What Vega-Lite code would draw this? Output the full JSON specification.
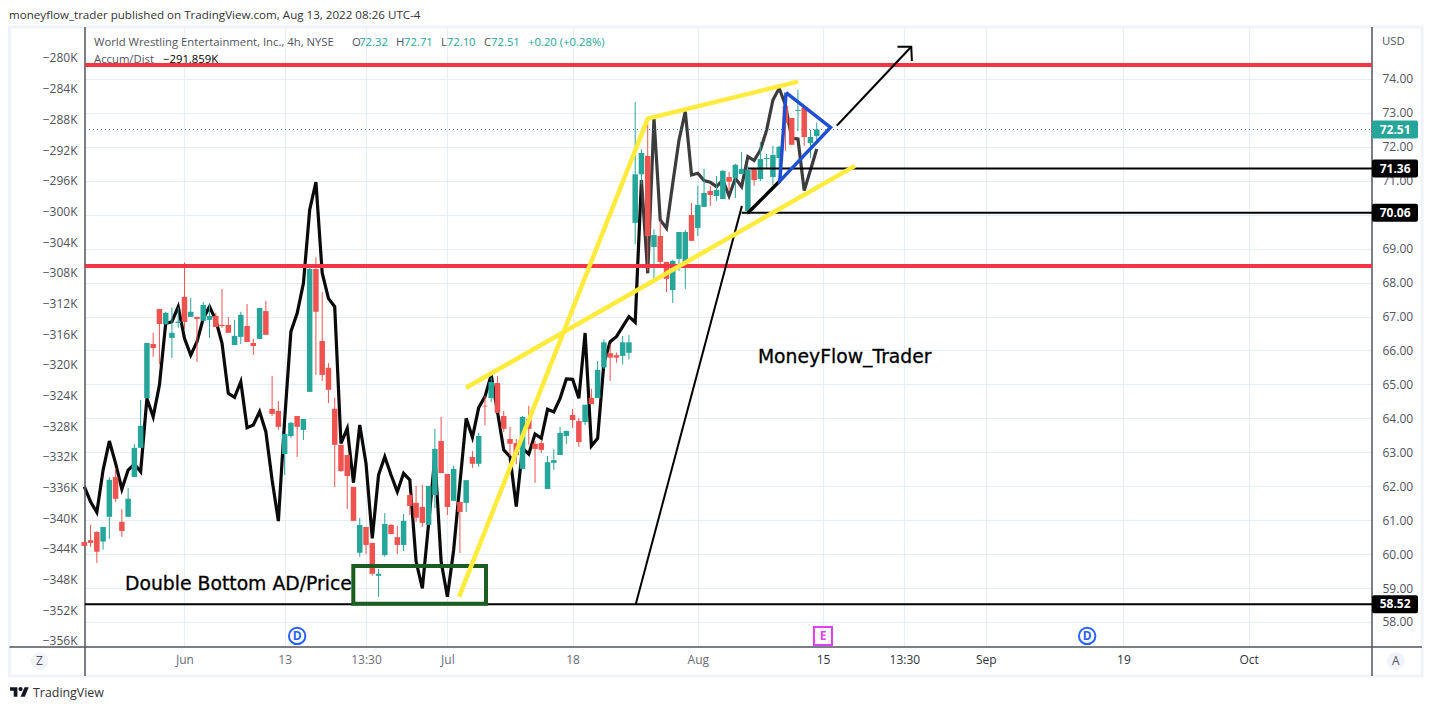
{
"$schema":"https://vega.github.io/schema/vega-lite/v6.json",
"description":"WWE 4h candles with Accumulation/Distribution and trend drawings",
"autosize":"none",
"width":1287,
"height":621,
"padding":{"left":85,"top":26,"right":60,"bottom":63},
"background":"#ffffff",
"config":{"view":{"stroke":null},"text":{"font":"Open Sans"},"axis":{"labelFont":"Open Sans","labelFontSize":12,"labelColor":"#50535e","title":null,"ticks":false,"domain":false}},
"datasets":{
"candles":[
{"i":0,"o":60.36,"h":60.36,"l":60.24,"c":60.24},{"i":1,"o":60.41,"h":60.86,"l":60.21,"c":60.33},{"i":2,"o":60.65,"h":60.68,"l":59.74,"c":60.07},{"i":3,"o":60.37,"h":60.8,"l":60.13,"c":60.8},{"i":4,"o":61.1,"h":62.27,"l":60.45,"c":62.19},{"i":5,"o":62.27,"h":62.53,"l":61.54,"c":61.63},{"i":6,"o":60.95,"h":61.33,"l":60.51,"c":60.68},{"i":7,"o":61.1,"h":61.95,"l":61.1,"c":61.63},{"i":8,"o":62.27,"h":63.24,"l":62.27,"c":63.13},{"i":9,"o":63.13,"h":64.54,"l":63.13,"c":63.78},
{"i":10,"o":64.6,"h":66.22,"l":64.6,"c":66.22},{"i":11,"o":66.19,"h":66.52,"l":65.81,"c":66.07},{"i":12,"o":67.22,"h":67.22,"l":65.59,"c":66.78},{"i":13,"o":66.77,"h":67.14,"l":66.77,"c":67.11},{"i":14,"o":66.37,"h":67.26,"l":65.78,"c":66.52},{"i":15,"o":66.81,"h":67.26,"l":66.67,"c":66.85},{"i":16,"o":67.58,"h":68.59,"l":66.63,"c":66.84},{"i":17,"o":66.99,"h":67.55,"l":66.99,"c":67.14},{"i":18,"o":66.99,"h":66.99,"l":65.66,"c":66.93},{"i":19,"o":66.87,"h":67.43,"l":66.87,"c":67.34},
{"i":20,"o":66.9,"h":67.36,"l":66.37,"c":67.02},{"i":21,"o":67.02,"h":67.11,"l":66.69,"c":66.69},{"i":22,"o":66.75,"h":67.81,"l":66.67,"c":66.72},{"i":23,"o":66.75,"h":66.99,"l":66.52,"c":66.52},{"i":24,"o":66.16,"h":66.9,"l":66.16,"c":66.43},{"i":25,"o":66.4,"h":67.14,"l":66.19,"c":67.05},{"i":26,"o":66.72,"h":67.37,"l":66.25,"c":66.25},{"i":27,"o":66.22,"h":66.34,"l":65.87,"c":66.13},{"i":28,"o":66.34,"h":67.25,"l":66.34,"c":67.25},{"i":29,"o":67.16,"h":67.46,"l":66.46,"c":66.46},
{"i":30,"o":64.28,"h":65.25,"l":64.07,"c":64.13},{"i":31,"o":64.22,"h":64.51,"l":63.66,"c":63.75},{"i":32,"o":62.95,"h":63.54,"l":62.33,"c":63.54},{"i":33,"o":63.48,"h":63.89,"l":63.42,"c":63.87},{"i":34,"o":64.07,"h":64.07,"l":62.86,"c":63.75},{"i":35,"o":63.66,"h":63.98,"l":63.36,"c":63.98},{"i":36,"o":64.78,"h":68.49,"l":64.78,"c":68.4},{"i":37,"o":68.4,"h":68.74,"l":65.28,"c":67.14},{"i":38,"o":66.28,"h":67.72,"l":65.1,"c":65.28},{"i":39,"o":65.49,"h":65.63,"l":64.45,"c":64.84},
{"i":40,"o":64.28,"h":64.6,"l":61.98,"c":63.22},{"i":41,"o":63.22,"h":63.22,"l":62.42,"c":62.45},{"i":42,"o":62.92,"h":62.92,"l":61.33,"c":62.3},{"i":43,"o":61.98,"h":61.98,"l":60.98,"c":60.98},{"i":44,"o":60.04,"h":61.07,"l":59.92,"c":60.86},{"i":45,"o":60.8,"h":60.8,"l":60,"c":60.27},{"i":46,"o":60.33,"h":60.33,"l":59.36,"c":59.42},{"i":47,"o":59.36,"h":59.56,"l":58.74,"c":59.42},{"i":48,"o":59.97,"h":61.21,"l":59.92,"c":60.89},{"i":49,"o":60.86,"h":60.89,"l":60.59,"c":60.59},
{"i":50,"o":60.5,"h":60.83,"l":60,"c":60.27},{"i":51,"o":60.27,"h":61.18,"l":60.09,"c":60.98},{"i":52,"o":61.74,"h":61.8,"l":61.15,"c":61.42},{"i":53,"o":61.51,"h":62.01,"l":60.95,"c":61.07},{"i":54,"o":61.39,"h":62.04,"l":60.8,"c":60.92},{"i":55,"o":60.86,"h":62.01,"l":60.86,"c":62.01},{"i":56,"o":61.74,"h":63.69,"l":61.36,"c":63.1},{"i":57,"o":63.33,"h":64.04,"l":62.39,"c":62.39},{"i":58,"o":62.36,"h":62.36,"l":61.15,"c":61.39},{"i":59,"o":61.57,"h":62.6,"l":61.57,"c":62.51},
{"i":60,"o":61.54,"h":61.54,"l":60.03,"c":61.24},{"i":61,"o":61.51,"h":62.18,"l":61.24,"c":62.18},{"i":62,"o":62.86,"h":63.04,"l":62.54,"c":62.66},{"i":63,"o":62.66,"h":63.57,"l":62.57,"c":63.48},{"i":64,"o":64.37,"h":64.66,"l":63.8,"c":64.35},{"i":65,"o":64.6,"h":65.2,"l":64.48,"c":65.07},{"i":66,"o":65.04,"h":65.25,"l":64.16,"c":64.16},{"i":67,"o":64.07,"h":64.22,"l":63.6,"c":63.69},{"i":68,"o":63.39,"h":63.75,"l":62.89,"c":63.25},{"i":69,"o":63.27,"h":63.39,"l":62.65,"c":62.92},
{"i":70,"o":62.51,"h":64.07,"l":62.51,"c":64.04},{"i":71,"o":63.98,"h":64.37,"l":63.22,"c":63.69},{"i":72,"o":63.25,"h":63.33,"l":62.1,"c":63.1},{"i":73,"o":63.27,"h":63.33,"l":62.98,"c":63.07},{"i":74,"o":61.92,"h":62.89,"l":61.92,"c":62.71},{"i":75,"o":62.69,"h":63.09,"l":62.48,"c":62.77},{"i":76,"o":62.92,"h":63.75,"l":62.92,"c":63.57},{"i":77,"o":63.48,"h":63.63,"l":63.25,"c":63.63},{"i":78,"o":64.1,"h":64.28,"l":63.72,"c":63.95},{"i":79,"o":63.92,"h":64.01,"l":63.16,"c":63.3},
{"i":80,"o":63.89,"h":64.4,"l":63.8,"c":64.4},{"i":81,"o":64.6,"h":64.87,"l":64.42,"c":64.42},{"i":82,"o":64.6,"h":65.69,"l":64.6,"c":65.43},{"i":83,"o":65.5,"h":66.33,"l":65.45,"c":66.24},{"i":84,"o":65.92,"h":66.18,"l":65.1,"c":65.79},{"i":85,"o":65.86,"h":65.94,"l":65.64,"c":65.79},{"i":86,"o":65.84,"h":66.43,"l":65.59,"c":66.24},{"i":87,"o":65.93,"h":66.45,"l":65.73,"c":66.24},{"i":88,"o":69.76,"h":73.32,"l":69.13,"c":71.19},{"i":89,"o":71.19,"h":71.93,"l":70.9,"c":71.82},
{"i":90,"o":71.73,"h":72.71,"l":68.35,"c":69.37},{"i":91,"o":69.05,"h":69.57,"l":68,"c":69.4},{"i":92,"o":69.37,"h":69.82,"l":68.54,"c":68.61},{"i":93,"o":68.61,"h":68.61,"l":67.72,"c":68.11},{"i":94,"o":67.78,"h":68.67,"l":67.4,"c":68.64},{"i":95,"o":68.7,"h":69.49,"l":68.34,"c":69.49},{"i":96,"o":68.44,"h":69.55,"l":67.81,"c":69.49},{"i":97,"o":69.99,"h":70.35,"l":69.23,"c":69.23},{"i":98,"o":69.61,"h":70.85,"l":69.37,"c":70.29},{"i":99,"o":70.23,"h":71.35,"l":70.23,"c":70.64},
{"i":100,"o":70.7,"h":70.85,"l":70.26,"c":70.58},{"i":101,"o":70.55,"h":71.14,"l":70.41,"c":70.73},{"i":102,"o":70.46,"h":71.32,"l":70.46,"c":71.29},{"i":103,"o":71.11,"h":71.26,"l":70.7,"c":70.97},{"i":104,"o":71.08,"h":71.5,"l":70.49,"c":71.47},{"i":105,"o":71.2,"h":71.85,"l":71.2,"c":71.35},{"i":106,"o":70.11,"h":71.44,"l":69.99,"c":71.32},{"i":107,"o":71.35,"h":71.38,"l":70.85,"c":71.02},{"i":108,"o":71.05,"h":72.14,"l":70.99,"c":71.64},{"i":109,"o":71.64,"h":71.79,"l":71.35,"c":71.67},
{"i":110,"o":71.11,"h":72.03,"l":70.88,"c":71.76},{"i":111,"o":71.67,"h":72.03,"l":71.29,"c":72},{"i":112,"o":73.2,"h":73.35,"l":71.88,"c":72.7},{"i":113,"o":72.85,"h":72.85,"l":72.06,"c":72.06},{"i":114,"o":73.06,"h":73.68,"l":72.47,"c":73.09},{"i":115,"o":73.15,"h":73.2,"l":72.03,"c":72.29},{"i":116,"o":72.11,"h":72.5,"l":71.67,"c":72.29},{"i":117,"o":72.32,"h":72.71,"l":72.1,"c":72.51}
],
"ad":[
{"i":0,"ad":-335.89},{"i":1,"ad":-337.85},{"i":2,"ad":-339.24},{"i":3,"ad":-333.72},{"i":4,"ad":-329.94},{"i":5,"ad":-332.85},{"i":6,"ad":-336.2},{"i":7,"ad":-333.72},{"i":8,"ad":-332.94},{"i":9,"ad":-333.94},
{"i":10,"ad":-324.38},{"i":11,"ad":-326.77},{"i":12,"ad":-322.64},{"i":13,"ad":-314.6},{"i":14,"ad":-314.38},{"i":15,"ad":-312.42},{"i":16,"ad":-316.55},{"i":17,"ad":-318.73},{"i":18,"ad":-316.99},{"i":19,"ad":-313.95},
{"i":20,"ad":-312.42},{"i":21,"ad":-314.16},{"i":22,"ad":-317.2},{"i":23,"ad":-323.72},{"i":24,"ad":-324.25},{"i":25,"ad":-322.2},{"i":26,"ad":-328.2},{"i":27,"ad":-327.85},{"i":28,"ad":-326.11},{"i":29,"ad":-328.72},
{"i":30,"ad":-335.02},{"i":31,"ad":-340.37},{"i":32,"ad":-327.2},{"i":33,"ad":-315.68},{"i":34,"ad":-313.29},{"i":35,"ad":-309.38},{"i":36,"ad":-299.82},{"i":37,"ad":-296.17},{"i":38,"ad":-308.03},{"i":39,"ad":-311.34},
{"i":40,"ad":-312.42},{"i":41,"ad":-330.24},{"i":42,"ad":-328.29},{"i":43,"ad":-335.37},{"i":44,"ad":-327.85},{"i":45,"ad":-332.85},{"i":46,"ad":-342.63},{"i":47,"ad":-334.37},{"i":48,"ad":-331.98},{"i":49,"ad":-334.36},
{"i":50,"ad":-336.54},{"i":51,"ad":-334.15},{"i":52,"ad":-335.02},{"i":53,"ad":-345.66},{"i":54,"ad":-349.14},{"i":55,"ad":-340.67},{"i":56,"ad":-331.97},{"i":57,"ad":-345.66},{"i":58,"ad":-350.23},{"i":59,"ad":-344.14},
{"i":60,"ad":-335.45},{"i":61,"ad":-326.98},{"i":62,"ad":-329.45},{"i":63,"ad":-325.58},{"i":64,"ad":-324.15},{"i":65,"ad":-321.33},{"i":66,"ad":-326.11},{"i":67,"ad":-331.1},{"i":68,"ad":-331.97},{"i":69,"ad":-338.49},
{"i":70,"ad":-330.89},{"i":71,"ad":-331.63},{"i":72,"ad":-329.02},{"i":73,"ad":-329.58},{"i":74,"ad":-325.8},{"i":75,"ad":-326.15},{"i":76,"ad":-324.37},{"i":77,"ad":-321.85},{"i":78,"ad":-321.89},{"i":79,"ad":-324.37},
{"i":80,"ad":-315.85},{"i":81,"ad":-330.58},{"i":82,"ad":-329.58},{"i":83,"ad":-319.77},{"i":84,"ad":-316.98},{"i":85,"ad":-316.33},{"i":86,"ad":-315.03},{"i":87,"ad":-313.72},{"i":88,"ad":-314.46},{"i":89,"ad":-295.9},
{"i":90,"ad":-308.07},{"i":91,"ad":-287.86},{"i":92,"ad":-301.12},{"i":93,"ad":-302.2},{"i":94,"ad":-296.34},{"i":95,"ad":-290.69},{"i":96,"ad":-286.99},{"i":97,"ad":-295.25},{"i":98,"ad":-295.03},{"i":99,"ad":-295.99},
{"i":100,"ad":-296.21},{"i":101,"ad":-296.77},{"i":102,"ad":-295.9},{"i":103,"ad":-297.99},{"i":104,"ad":-295.68},{"i":105,"ad":-296.77},{"i":106,"ad":-292.86},{"i":107,"ad":-293.38},{"i":108,"ad":-291.99},{"i":109,"ad":-289.38},
{"i":110,"ad":-285.47},{"i":111,"ad":-283.95},{"i":112,"ad":-286.12},{"i":113,"ad":-290.47},{"i":114,"ad":-290.56},{"i":115,"ad":-297.29},{"i":116,"ad":-294.6},{"i":117,"ad":-291.86}
],
"paths":[
{"name":"yellowA","k":0,"i":59.86,"p":58.74},{"name":"yellowA","k":1,"i":90,"p":72.83},{"name":"yellowA","k":2,"i":114,"p":73.92},
{"name":"yellowB","k":0,"i":60.97,"p":64.9},{"name":"yellowB","k":1,"i":123.1,"p":71.44},
{"name":"blue","k":0,"i":112.1,"p":73.6},{"name":"blue","k":1,"i":119.2,"p":72.57},{"name":"blue","k":2,"i":111.1,"p":70.99},{"name":"blue","k":3,"i":112.1,"p":73.6},
{"name":"thick","k":0,"i":106,"p":70.05},{"name":"thick","k":1,"i":111.1,"p":70.99},
{"name":"thin","k":0,"i":88.1,"p":58.53},{"name":"thin","k":1,"i":105.05,"p":70.26},
{"name":"arrow","k":0,"i":120.2,"p":72.62},{"name":"arrow","k":1,"i":132.1,"p":74.95},
{"name":"head","k":0,"i":129.9,"p":74.95},{"name":"head","k":1,"i":132.1,"p":74.95},{"name":"head","k":2,"i":132.2,"p":74.53}
],
"frame":[
{"side":"left","i":0.11,"p":75.53,"p2":56.41},{"side":"right","i":205.7,"p":75.53,"p2":56.41}
],
"boxes":[
{"i":205.7,"i2":213.05,"p":72.775,"p2":72.245,"last":true},{"i":205.7,"i2":213.05,"p":71.625,"p2":71.095,"last":false},{"i":205.7,"i2":213.05,"p":70.325,"p2":69.795,"last":false},{"i":205.7,"i2":213.05,"p":58.785,"p2":58.255,"last":false}
],
"boxLabels":[{"i":209.4,"p":72.51,"t":"72.51"},{"i":209.4,"p":71.36,"t":"71.36"},{"i":209.4,"p":70.06,"t":"70.06"},{"i":209.4,"p":58.52,"t":"58.52"}]
},
"layer":[
{
"layer":[
{"data":{"name":"ad"},"transform":[{"filter":"datum.i<=89"}],"mark":{"type":"line","color":"#0a0a0a","strokeWidth":3.2},
"encoding":{"x":{"field":"i","type":"quantitative","scale":{"domain":[0.11,205.7],"nice":false,"zero":false,"padding":0},
"axis":{"orient":"bottom","values":[16,32,45,58,78,98,118,131,144,166,186],"tickCount":40,"labelExpr":"{'16':'Jun','32':'13','45':'13:30','58':'Jul','78':'18','98':'Aug','118':'15','131':'13:30','144':'Sep','166':'19','186':'Oct'}[datum.value]","grid":true,"gridColor":"#e6eef3","labelPadding":7,"labelOverlap":false,"labelColor":{"condition":{"test":"length(datum.label)==3","value":"#2f3340"},"value":"#6a6d78"}}},
"y":{"field":"ad","type":"quantitative","scale":{"domain":[-356.79,-275.83],"nice":false,"zero":false},"axis":{"orient":"left","values":[-280,-284,-288,-292,-296,-300,-304,-308,-312,-316,-320,-324,-328,-332,-336,-340,-344,-348,-352,-356],"tickCount":40,"labelExpr":"'−'+abs(datum.value)+'K'","grid":false,"labelPadding":8,"labelOverlap":false,"labelBound":false}}}},
{"data":{"name":"ad"},"transform":[{"filter":"datum.i>=89"}],"mark":{"type":"line","color":"#3c3c3c","strokeWidth":3.2},
"encoding":{"x":{"field":"i","type":"quantitative"},"y":{"field":"ad","type":"quantitative"}}}
]
},
{
"encoding":{
"x":{"field":"i","type":"quantitative"},
"y":{"field":"p","type":"quantitative","scale":{"domain":[57.263,75.56],"nice":false,"zero":false},
"axis":{"orient":"right","values":[58,59,60,61,62,63,64,65,66,67,68,69,70,71,72,73,74],"tickCount":40,"format":".2f","grid":true,"gridColor":"#e6eef3","labelPadding":10,"labelOverlap":false}}
},
"layer":[
{"data":{"values":[{"i":-11.95,"i2":213.7,"p":75.53,"p2":56.41}]},"mark":{"type":"rect","fill":"transparent","stroke":"#f0f3fa","strokeWidth":3},"encoding":{"x2":{"field":"i2"},"y2":{"field":"p2"}}},
{"data":{"values":[{"i":-11.95,"i2":213.7,"p":57.263}]},"mark":{"type":"rule","color":"#50535e","strokeWidth":1.5},"encoding":{"x2":{"field":"i2"}}},
{"data":{"name":"frame"},"mark":{"type":"rule","color":"#50535e","strokeWidth":1.5},"encoding":{"y2":{"field":"p2"}}},
{"data":{"values":[{"i":0.11,"i2":205.7,"p":72.51}]},"mark":{"type":"rule","color":"#1f9c8f","strokeWidth":1,"strokeDash":[1,3]},"encoding":{"x2":{"field":"i2"}}},
{"data":{"name":"candles"},"mark":{"type":"rule","strokeWidth":1},"encoding":{"y":{"field":"h","type":"quantitative"},"y2":{"field":"l"},"color":{"condition":{"test":"datum.c>=datum.o","value":"#26a69a"},"value":"#ef5350"}}},
{"data":{"name":"candles"},"mark":{"type":"bar","size":5.5,"orient":"vertical"},"encoding":{"y":{"field":"o","type":"quantitative"},"y2":{"field":"c"},"color":{"condition":{"test":"datum.c>=datum.o","value":"#26a69a"},"value":"#ef5350"}}},
{"data":{"values":[{"i":0.11,"i2":205.7,"p":74.41},{"i":0.11,"i2":205.7,"p":68.49}]},"mark":{"type":"rule","color":"#f23645","strokeWidth":4},"encoding":{"x2":{"field":"i2"}}},
{"data":{"values":[{"i":106,"i2":205.7,"p":71.36},{"i":105,"i2":205.7,"p":70.06},{"i":0.11,"i2":205.7,"p":58.52}]},"mark":{"type":"rule","color":"#000000","strokeWidth":2},"encoding":{"x2":{"field":"i2"}}},
{"data":{"values":[{"i":42.97,"i2":64.17,"p":59.65,"p2":58.54}]},"mark":{"type":"rect","fill":"transparent","stroke":"#1b5e20","strokeWidth":4},"encoding":{"x2":{"field":"i2"},"y2":{"field":"p2"}}},
{"data":{"name":"paths"},"transform":[{"filter":"datum.name=='thin'"}],"mark":{"type":"line","color":"#000000","strokeWidth":2},"encoding":{"order":{"field":"k"}}},
{"data":{"name":"paths"},"transform":[{"filter":"datum.name=='yellowA'||datum.name=='yellowB'"}],"mark":{"type":"line","color":"#ffeb3b","strokeWidth":4.5},"encoding":{"detail":{"field":"name"},"order":{"field":"k"}}},
{"data":{"name":"paths"},"transform":[{"filter":"datum.name=='thick'"}],"mark":{"type":"line","color":"#000000","strokeWidth":3.5},"encoding":{"order":{"field":"k"}}},
{"data":{"name":"paths"},"transform":[{"filter":"datum.name=='blue'"}],"mark":{"type":"line","color":"#1e4fd0","strokeWidth":3.5},"encoding":{"order":{"field":"k"}}},
{"data":{"name":"paths"},"transform":[{"filter":"datum.name=='arrow'||datum.name=='head'"}],"mark":{"type":"line","color":"#000000","strokeWidth":2},"encoding":{"detail":{"field":"name"},"order":{"field":"k"}}},
{"data":{"values":[{"t":"Double Bottom AD/Price","i":6.5,"p":59.12},{"t":"MoneyFlow_Trader","i":107.6,"p":65.81}]},"mark":{"type":"text","font":"DejaVu Sans","fontSize":18.8,"align":"left","baseline":"middle","color":"#000000","stroke":"#000000","strokeWidth":0.3},"encoding":{"text":{"field":"t"}}},
{"data":{"name":"boxes"},"mark":{"type":"rect","cornerRadius":2},"encoding":{"x2":{"field":"i2"},"y2":{"field":"p2"},"color":{"condition":{"test":"datum.last","value":"#26a69a"},"value":"#000000"}}},
{"data":{"name":"boxLabels"},"mark":{"type":"text","fontSize":12,"fontWeight":"bold","align":"center","baseline":"middle","color":"#ffffff"},"encoding":{"text":{"field":"t"}}},
{"data":{"values":[{"t":"moneyflow_trader published on TradingView.com, Aug 13, 2022 08:26 UTC-4","i":-12.03,"p":75.86}]},"mark":{"type":"text","fontSize":11.6,"align":"left","baseline":"middle","color":"#333333"},"encoding":{"text":{"field":"t"}}},
{"data":{"values":[{"t":"TradingView","i":-8.19,"p":55.91}]},"mark":{"type":"text","fontSize":12.4,"align":"left","baseline":"middle","color":"#333333"},"encoding":{"text":{"field":"t"}}},
{"data":{"values":[{"t":"World Wrestling Entertainment, Inc., 4h, NYSE","i":1.55,"p":75.06},{"t":"O","i":42.76,"p":75.06},{"t":"H","i":49.8,"p":75.06},{"t":"L","i":56.98,"p":75.06},{"t":"C","i":63.86,"p":75.06},{"t":"Accum/Dist","i":1.55,"p":74.56},{"t":"USD","i":207.3,"p":75.09}]},"mark":{"type":"text","fontSize":11.3,"align":"left","baseline":"middle","color":"#50535e"},"encoding":{"text":{"field":"t"}}},
{"data":{"values":[{"t":"72.32","i":43.9,"p":75.06},{"t":"72.71","i":51.07,"p":75.06},{"t":"72.10","i":57.9,"p":75.06},{"t":"72.51","i":64.97,"p":75.06},{"t":"+0.20 (+0.28%)","i":70.88,"p":75.06}]},"mark":{"type":"text","fontSize":11.3,"align":"left","baseline":"middle","color":"#26a69a"},"encoding":{"text":{"field":"t"}}},
{"data":{"values":[{"t":"−291.859K","i":12.57,"p":74.56}]},"mark":{"type":"text","fontSize":11.3,"align":"left","baseline":"middle","color":"#000000"},"encoding":{"text":{"field":"t"}}},
{"data":{"values":[{"i":34,"p":57.59},{"i":160.2,"p":57.59}]},"mark":{"type":"point","shape":"circle","size":270,"filled":false,"fill":"#ffffff","fillOpacity":1,"stroke":"#2962ff","strokeWidth":2,"opacity":1}},
{"data":{"values":[{"i":118,"p":57.59}]},"mark":{"type":"point","shape":"square","size":324,"filled":false,"fill":"#ffffff","fillOpacity":1,"stroke":"#e040fb","strokeWidth":2,"opacity":1}},
{"data":{"values":[{"t":"D","i":34,"p":57.59},{"t":"D","i":160.2,"p":57.59}]},"mark":{"type":"text","fontSize":12,"fontWeight":"bold","align":"center","baseline":"middle","color":"#2962ff"},"encoding":{"text":{"field":"t"}}},
{"data":{"values":[{"t":"E","i":118,"p":57.59}]},"mark":{"type":"text","fontSize":12,"fontWeight":"bold","align":"center","baseline":"middle","color":"#e040fb"},"encoding":{"text":{"field":"t"}}},
{"data":{"values":[{"i":-7.16,"p":56.85},{"i":209.5,"p":56.85}]},"mark":{"type":"point","shape":"circle","size":314,"filled":true,"color":"#f0f3fa","opacity":1}},
{"data":{"values":[{"t":"Z","i":-7.16,"p":56.85},{"t":"A","i":209.5,"p":56.85}]},"mark":{"type":"text","fontSize":12,"align":"center","baseline":"middle","color":"#50535e"},"encoding":{"text":{"field":"t"}}},
{"data":{"values":[{"i":-10.35,"p":55.94}]},"mark":{"type":"point","filled":true,"color":"#131722","opacity":1,"size":361,"shape":"M-0.222 0.5H-0.611V-0.111H-1V-0.5H-0.222ZM0.556 0.5H0.111L0.528 -0.5H0.972ZM-0.111 -0.306a0.222 0.222 0 1 0 0.444 0a0.222 0.222 0 1 0 -0.444 0Z"}}
]
}
],
"resolve":{"scale":{"y":"independent"}}
}
